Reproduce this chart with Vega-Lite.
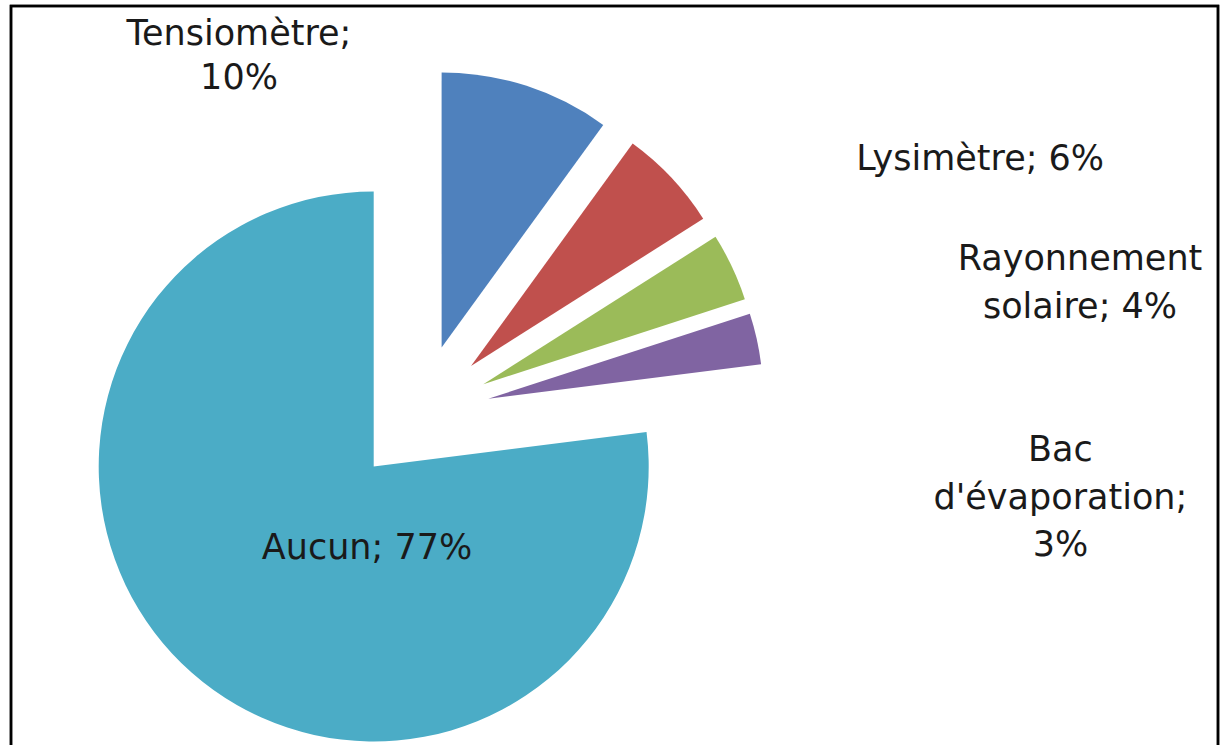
{
  "$schema": "https://vega.github.io/schema/vega-lite/v6.json",
  "width": 1207,
  "height": 745,
  "autosize": "none",
  "padding": {"left": 11, "top": 6, "right": 3, "bottom": 0},
  "background": "white",
  "view": {"stroke": "#000000", "strokeWidth": 2.5},
  "config": {
    "view": {"stroke": "#000000", "strokeWidth": 2.5},
    "text": {"font": "DejaVu Sans", "fontSize": 35, "color": "#1a1a1a"}
  },
  "data": {
    "values": [
      {"cat": "Tensiomètre", "label": "Tensiomètre;\n10%", "value": 10, "order": 1},
      {"cat": "Lysimètre", "label": "Lysimètre; 6%", "value": 6, "order": 2},
      {"cat": "Rayonnement solaire", "label": "Rayonnement\nsolaire; 4%", "value": 4, "order": 3},
      {"cat": "Bac d'évaporation", "label": "Bac\nd'évaporation;\n3%", "value": 3, "order": 4},
      {"cat": "Aucun", "label": "Aucun; 77%", "value": 77, "order": 5}
    ]
  },
  "transform": [
    {"stack": "value", "groupby": [], "sort": [{"field": "order", "order": "ascending"}], "as": ["v0", "v1"]}
  ],
  "encoding": {
    "theta": {"field": "v0", "type": "quantitative", "scale": {"domain": [0, 100], "range": [0, 6.283185307179586]}}
  },
  "layer": [
    {
      "transform": [{"filter": "datum.cat === 'Aucun'"}],
      "mark": {"type": "rect", "fill": "transparent", "stroke": "#000000", "strokeWidth": 2.5},
      "encoding": {}
    },
    {
      "transform": [{"filter": "datum.cat === 'Tensiomètre'"}],
      "mark": {"type": "arc", "radius": 275, "x": 430.6, "y": 341.4},
      "encoding": {"theta2": {"field": "v1"}, "color": {"field": "cat", "type": "nominal", "legend": null, "scale": {"domain": ["Tensiomètre", "Lysimètre", "Rayonnement solaire", "Bac d'évaporation", "Aucun"], "range": ["#4F81BD", "#C0504D", "#9BBB59", "#8064A2", "#4BACC6"]}}}
    },
    {
      "transform": [{"filter": "datum.cat === 'Lysimètre'"}],
      "mark": {"type": "arc", "radius": 275, "x": 460, "y": 360.1},
      "encoding": {"theta2": {"field": "v1"}, "color": {"field": "cat", "type": "nominal", "legend": null}}
    },
    {
      "transform": [{"filter": "datum.cat === 'Rayonnement solaire'"}],
      "mark": {"type": "arc", "radius": 275, "x": 472.3, "y": 378.2},
      "encoding": {"theta2": {"field": "v1"}, "color": {"field": "cat", "type": "nominal", "legend": null}}
    },
    {
      "transform": [{"filter": "datum.cat === \"Bac d'évaporation\""}],
      "mark": {"type": "arc", "radius": 275, "x": 477.3, "y": 392.7},
      "encoding": {"theta2": {"field": "v1"}, "color": {"field": "cat", "type": "nominal", "legend": null}}
    },
    {
      "transform": [{"filter": "datum.cat === 'Aucun'"}],
      "mark": {"type": "arc", "radius": 275, "x": 362.7, "y": 460.5},
      "encoding": {"theta2": {"field": "v1"}, "color": {"field": "cat", "type": "nominal", "legend": null}}
    },
    {
      "transform": [{"filter": "datum.cat === 'Tensiomètre'"}],
      "mark": {"type": "text", "x": 409, "y": 408, "radius": 358, "dx": -181, "dy": -22, "lineBreak": "\n", "lineHeight": 44, "align": "center", "baseline": "middle", "color": "#1a1a1a"},
      "encoding": {"text": {"field": "label"}}
    },
    {
      "transform": [{"filter": "datum.cat === 'Lysimètre'"}],
      "mark": {"type": "text", "x": 409, "y": 408, "radius": 315, "dx": 375, "dy": 0, "lineBreak": "\n", "lineHeight": 46, "align": "center", "baseline": "middle", "color": "#1a1a1a"},
      "encoding": {"text": {"field": "label"}}
    },
    {
      "transform": [{"filter": "datum.cat === 'Rayonnement solaire'"}],
      "mark": {"type": "text", "x": 409, "y": 408, "radius": 244, "dx": 454, "dy": -24, "lineBreak": "\n", "lineHeight": 48, "align": "center", "baseline": "middle", "color": "#1a1a1a"},
      "encoding": {"text": {"field": "label"}}
    },
    {
      "transform": [{"filter": "datum.cat === \"Bac d'évaporation\""}],
      "mark": {"type": "text", "x": 409, "y": 408, "radius": 400, "dx": 260, "dy": 160, "lineBreak": "\n", "lineHeight": 47.5, "align": "center", "baseline": "middle", "color": "#1a1a1a"},
      "encoding": {"text": {"field": "label"}}
    },
    {
      "transform": [{"filter": "datum.cat === 'Aucun'"}],
      "mark": {"type": "text", "x": 409, "y": 408, "radius": 0, "dx": -53, "dy": 134, "lineBreak": "\n", "lineHeight": 46, "align": "center", "baseline": "middle", "color": "#1a1a1a"},
      "encoding": {"text": {"field": "label"}}
    }
  ]
}
